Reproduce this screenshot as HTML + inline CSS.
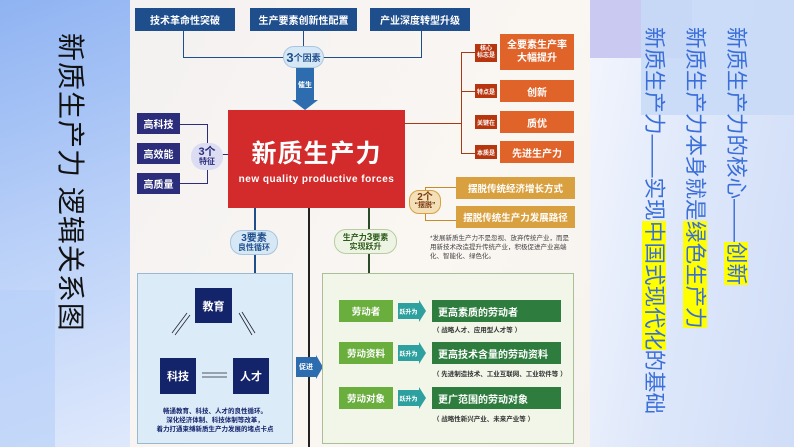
<!DOCTYPE html>
<html><head><meta charset="utf-8"><style>
*{margin:0;padding:0;box-sizing:border-box}
body{width:794px;height:447px;overflow:hidden;position:relative;font-family:"Liberation Sans","Noto Sans CJK SC",sans-serif;background:#e4ebfa}
.a{position:absolute}
.c{display:flex;align-items:center;justify-content:center;text-align:center;font-weight:bold;color:#fff}
.vt{writing-mode:vertical-rl;text-orientation:sideways;white-space:nowrap}
.ln{position:absolute;background:#223}
</style></head><body>
<div class="a" style="left:0;top:0;width:130px;height:447px;background:linear-gradient(160deg,#8fb3f2 0%,#b9d0f8 50%,#dfe9fc 100%)"></div>
<div class="a" style="left:0;top:290px;width:55px;height:157px;background:#b5cff8;opacity:.6"></div>
<div class="a" style="left:590px;top:0;width:204px;height:447px;background:linear-gradient(100deg,#f4f6fd 0%,#dde7fa 50%,#d0ddf8 100%)"></div>
<div class="a" style="left:590px;top:0;width:102px;height:58px;background:#c9c9f2"></div>
<div class="a" style="left:641px;top:0;width:153px;height:115px;background:#c7d9f7;opacity:.85"></div>
<div class="a vt" style="left:52px;top:33px;font-size:28px;color:#111;letter-spacing:1px">新质生产力 逻辑关系图</div>
<div class="a vt" style="left:633px;top:27px;font-size:21.5px;line-height:41px;color:#3a6ed8;height:420px">
<span>新质生产力的核心——<span style="background:#ffff00">创新</span></span><br>
<span>新质生产力本身就是<span style="background:#ffff00">绿色生产力</span></span><br>
<span>新质生产力——实现<span style="background:#ffff00">中国式现代化</span>的基础</span>
</div>

<!-- diagram -->
<div class="a" style="left:130px;top:0;width:460px;height:447px;background:linear-gradient(120deg,#f3f1f1,#faf6f2 60%,#f6f2ee)"></div>
<div class="ln" style="left:183px;top:31px;width:1px;height:27px;background:#1f4e8c"></div>
<div class="ln" style="left:303px;top:31px;width:1px;height:27px;background:#1f4e8c"></div>
<div class="ln" style="left:421px;top:31px;width:1px;height:27px;background:#1f4e8c"></div>
<div class="ln" style="left:183px;top:57px;width:239px;height:1px;background:#1f4e8c"></div>
<div class="a c" style="left:135px;top:8px;width:100px;height:23px;background:#1f4e8c;font-size:10px">技术革命性突破</div>
<div class="a c" style="left:250px;top:8px;width:107px;height:23px;background:#1f4e8c;font-size:10px">生产要素创新性配置</div>
<div class="a c" style="left:370px;top:8px;width:100px;height:23px;background:#1f4e8c;font-size:10px">产业深度转型升级</div>
<div class="a c" style="left:283px;top:46px;width:41px;height:22px;background:#d6e8f6;border:1px solid #a9c4dd;border-radius:11px;color:#1f4e8c;font-size:9px"><b style="font-size:13px">3</b>个因素</div>
<div class="a c" style="left:296px;top:68px;width:18px;height:34px;background:#2d6cae;font-size:7px">催生</div>
<div class="a" style="left:292px;top:100px;width:0;height:0;border-left:13px solid transparent;border-right:13px solid transparent;border-top:10px solid #2d6cae"></div>
<div class="a c" style="left:228px;top:110px;width:177px;height:98px;background:#d32b2b;flex-direction:column">
<div style="font-size:25px;letter-spacing:1px">新质生产力</div>
<div style="font-size:10px;margin-top:4px;letter-spacing:.5px">new quality productive forces</div></div>
<!-- left features -->
<div class="ln" style="left:180px;top:124px;width:28px;height:1px;background:#2c2e7c"></div>
<div class="ln" style="left:180px;top:183px;width:28px;height:1px;background:#2c2e7c"></div>
<div class="ln" style="left:207px;top:124px;width:1px;height:60px;background:#2c2e7c"></div>
<div class="ln" style="left:207px;top:154px;width:21px;height:1px;background:#2c2e7c"></div>
<div class="a c" style="left:137px;top:113px;width:43px;height:21px;background:#2c2e7c;font-size:10px">高科技</div>
<div class="a c" style="left:137px;top:143px;width:43px;height:21px;background:#2c2e7c;font-size:10px">高效能</div>
<div class="a c" style="left:137px;top:173px;width:43px;height:21px;background:#2c2e7c;font-size:10px">高质量</div>
<div class="a c" style="left:191px;top:143px;width:32px;height:27px;background:#dcdcf2;border-radius:13px;color:#2c2e7c;font-size:8px;line-height:9px;flex-direction:column"><span style="font-size:11px">3个</span>特征</div>
<!-- right orange -->
<div class="ln" style="left:405px;top:123px;width:57px;height:1px;background:#a63a14"></div>
<div class="ln" style="left:461px;top:52px;width:1px;height:102px;background:#a63a14"></div>
<div class="ln" style="left:461px;top:52px;width:14px;height:1px;background:#a63a14"></div>
<div class="ln" style="left:461px;top:91px;width:14px;height:1px;background:#a63a14"></div>
<div class="ln" style="left:461px;top:153px;width:14px;height:1px;background:#a63a14"></div>
<div class="a c" style="left:475px;top:44px;width:22px;height:18px;background:#b8360f;font-size:6px;line-height:7px">核心<br>标志是</div>
<div class="a c" style="left:475px;top:84px;width:22px;height:14px;background:#b8360f;font-size:6px">特点是</div>
<div class="a c" style="left:475px;top:115px;width:22px;height:14px;background:#b8360f;font-size:6px">关键在</div>
<div class="a c" style="left:475px;top:145px;width:22px;height:14px;background:#b8360f;font-size:6px">本质是</div>
<div class="a c" style="left:500px;top:34px;width:74px;height:36px;background:#e0642a;font-size:10px;line-height:13px">全要素生产率<br>大幅提升</div>
<div class="a c" style="left:500px;top:80px;width:74px;height:22px;background:#e0642a;font-size:10px">创新</div>
<div class="a c" style="left:500px;top:111px;width:74px;height:22px;background:#e0642a;font-size:10px">质优</div>
<div class="a c" style="left:500px;top:141px;width:74px;height:22px;background:#e0642a;font-size:10px">先进生产力</div>
<!-- tan -->
<div class="ln" style="left:425px;top:187px;width:1px;height:34px;background:#c98a2a"></div>
<div class="ln" style="left:425px;top:187px;width:31px;height:1px;background:#c98a2a"></div>
<div class="ln" style="left:425px;top:220px;width:31px;height:1px;background:#c98a2a"></div>
<div class="a c" style="left:456px;top:177px;width:119px;height:22px;background:#d9a040;font-size:9.5px">摆脱传统经济增长方式</div>
<div class="a c" style="left:456px;top:206px;width:119px;height:22px;background:#d9a040;font-size:9.5px">摆脱传统生产力发展路径</div>
<div class="a c" style="left:409px;top:190px;width:32px;height:24px;background:#f3dfb8;border:1px solid #d9a040;border-radius:10px;color:#7a3a10;font-size:7px;line-height:8px;flex-direction:column"><span style="font-size:10px">2个</span>“摆脱”</div>
<div class="a" style="left:430px;top:234px;width:142px;font-size:6.5px;line-height:9px;color:#444">*发展新质生产力不是忽视、放弃传统产业，而是用新技术改造提升传统产业，积极促进产业高端化、智能化、绿色化。</div>
<!-- verticals -->
<div class="ln" style="left:254px;top:208px;width:1.5px;height:66px;background:#1f4e8c"></div>
<div class="ln" style="left:308px;top:208px;width:1.5px;height:239px;background:#222"></div>
<div class="ln" style="left:368px;top:208px;width:1.5px;height:66px;background:#2a4a2a"></div>
<div class="a c" style="left:230px;top:230px;width:48px;height:25px;background:#d6e8f6;border:1px solid #a9c4dd;border-radius:12px;color:#1f4e8c;font-size:8px;line-height:9px;flex-direction:column"><span style="font-size:10px">3要素</span>良性循环</div>
<div class="a c" style="left:334px;top:229px;width:63px;height:25px;background:#eef4e4;border:1px solid #b7cca0;border-radius:12px;color:#2d5a1a;font-size:8px;line-height:9px;flex-direction:column"><span>生产力<b style="font-size:10px">3</b>要素</span>实现跃升</div>
<!-- left panel -->
<div class="a" style="left:137px;top:273px;width:156px;height:171px;background:#dcebf8;border:1px solid #9ab8d0"></div>
<div class="a c" style="left:195px;top:288px;width:37px;height:35px;background:#14246b;font-size:11px">教育</div>
<div class="a c" style="left:160px;top:358px;width:36px;height:36px;background:#14246b;font-size:11px">科技</div>
<div class="a c" style="left:233px;top:358px;width:36px;height:36px;background:#14246b;font-size:11px">人才</div>
<svg class="a" style="left:137px;top:273px" width="156" height="171"><g stroke="#223" stroke-width=".8">
<line x1="50" y1="40" x2="35" y2="60"/><line x1="53" y1="42" x2="38" y2="62"/>
<line x1="102" y1="40" x2="115" y2="62"/><line x1="105" y1="39" x2="118" y2="60"/>
<line x1="65" y1="100" x2="90" y2="100"/><line x1="65" y1="104" x2="90" y2="104"/></g></svg>
<div class="a" style="left:140px;top:407px;width:150px;font-size:6.5px;line-height:9px;color:#14246b;text-align:center;font-weight:bold">畅通教育、科技、人才的良性循环。<br>深化经济体制、科技体制等改革，<br>着力打通束缚新质生产力发展的堵点卡点</div>
<div class="a c" style="left:296px;top:357px;width:20px;height:20px;background:#2d6cae;font-size:7px">促进</div>
<div class="a" style="left:316px;top:355px;width:0;height:0;border-top:12px solid transparent;border-bottom:12px solid transparent;border-left:7px solid #2d6cae"></div>
<!-- green panel -->
<div class="a" style="left:322px;top:273px;width:252px;height:171px;background:#f1f6e8;border:1px solid #a9bf95"></div>
<div class="a c" style="left:339px;top:300px;width:54px;height:22px;background:#6aae3e;font-size:9.5px">劳动者</div>
<div class="a c" style="left:339px;top:342px;width:54px;height:22px;background:#6aae3e;font-size:9.5px">劳动资料</div>
<div class="a c" style="left:339px;top:387px;width:54px;height:22px;background:#6aae3e;font-size:9.5px">劳动对象</div>
<div class="a c" style="left:398px;top:303px;width:21px;height:16px;background:#2fa0a0;font-size:6px">跃升为</div>
<div class="a c" style="left:398px;top:345px;width:21px;height:16px;background:#2fa0a0;font-size:6px">跃升为</div>
<div class="a c" style="left:398px;top:390px;width:21px;height:16px;background:#2fa0a0;font-size:6px">跃升为</div>
<div class="a" style="left:419px;top:300px;border-top:11px solid transparent;border-bottom:11px solid transparent;border-left:7px solid #2fa0a0"></div>
<div class="a" style="left:419px;top:342px;border-top:11px solid transparent;border-bottom:11px solid transparent;border-left:7px solid #2fa0a0"></div>
<div class="a" style="left:419px;top:387px;border-top:11px solid transparent;border-bottom:11px solid transparent;border-left:7px solid #2fa0a0"></div>
<div class="a c" style="left:432px;top:300px;width:129px;height:22px;background:#2e7d3e;font-size:10px;justify-content:flex-start;padding-left:6px">更高素质的劳动者</div>
<div class="a c" style="left:432px;top:342px;width:129px;height:22px;background:#2e7d3e;font-size:10px;justify-content:flex-start;padding-left:6px">更高技术含量的劳动资料</div>
<div class="a c" style="left:432px;top:387px;width:129px;height:22px;background:#2e7d3e;font-size:10px;justify-content:flex-start;padding-left:6px">更广范围的劳动对象</div>
<div class="a" style="left:433px;top:324px;font-size:6.5px;color:#333;font-weight:bold">（ 战略人才、应用型人才等 ）</div>
<div class="a" style="left:433px;top:368px;font-size:6.5px;color:#333;font-weight:bold">（ 先进制造技术、工业互联网、工业软件等 ）</div>
<div class="a" style="left:433px;top:413px;font-size:6.5px;color:#333;font-weight:bold">（ 战略性新兴产业、未来产业等 ）</div>
</body></html>
